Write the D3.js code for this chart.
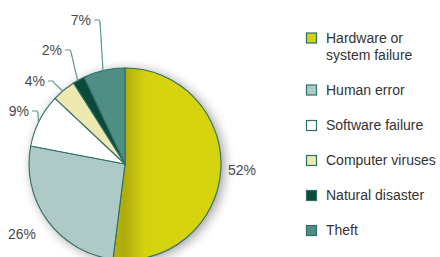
<!DOCTYPE html>
<html><head><meta charset="utf-8">
<script src="https://cdn.jsdelivr.net/npm/d3@7"></script>
<style>body{margin:0;background:#fff}svg{display:block}</style>
</head><body>
<script>
const categories = ["Hardware or system failure","Human error","Software failure","Computer viruses","Natural disaster","Theft"];
const legendLines = [["Hardware or","system failure"],["Human error"],["Software failure"],["Computer viruses"],["Natural disaster"],["Theft"]];
const values = [52,26,9,4,2,7];
const labels = ["52%","26%","9%","4%","2%","7%"];
const colors = ["#d5d30e","#aecac6","#ffffff","#ece8b0","#0b4a3a","#4f8e84"];

const W=440,H=257, cx=125, cy=164, R=96;
const svg=d3.select("body").append("svg").attr("width",W).attr("height",H);
const defs=svg.append("defs");
const f=defs.append("filter").attr("id","sh").attr("x","-30%").attr("y","-30%").attr("width","160%").attr("height","160%");
f.append("feGaussianBlur").attr("in","SourceAlpha").attr("stdDeviation",6);
f.append("feOffset").attr("dx",3).attr("dy",2).attr("result","b");
f.append("feComponentTransfer").append("feFuncA").attr("type","linear").attr("slope",0.4);
const g0=defs.append("linearGradient").attr("id","yg").attr("gradientUnits","userSpaceOnUse")
  .attr("x1",0).attr("y1",0).attr("x2",20).attr("y2",0);
g0.append("stop").attr("offset",0).attr("stop-color","#b0ad0c");
g0.append("stop").attr("offset",1).attr("stop-color",colors[0]);

const pie=d3.pie().sort(null).value(d=>d)(values);
const arc=d3.arc().innerRadius(0).outerRadius(R);
const g=svg.append("g").attr("transform",`translate(${cx},${cy})`);
g.append("circle").attr("r",R).attr("fill","#fff").attr("filter","url(#sh)");
g.selectAll("path.s").data(pie).join("path").attr("class","s")
  .attr("d",arc).attr("fill",(d,i)=>i===0?"url(#yg)":colors[i])
  .attr("stroke","#2f6f66").attr("stroke-width",1.1).attr("stroke-linejoin","round");

const big = {0:[117,6], 1:[-103,70]};
const small = {2:[29,111], 3:[45,81], 4:[62,50], 5:[91,20]};
const tx = svg.append("g").attr("font-family","Liberation Sans, Arial, sans-serif").attr("font-size",14).attr("fill","#4a4a4a");
pie.forEach((d,i)=>{
  if(big[i]){
    tx.append("text").attr("x",cx+big[i][0]).attr("y",cy+big[i][1]).attr("text-anchor","middle").attr("dy","0.35em").text(labels[i]);
  } else {
    const [lx,ly]=small[i];
    tx.append("text").attr("x",lx).attr("y",ly).attr("text-anchor","end").attr("dy","0.35em").text(labels[i]);
    const a=(d.startAngle+d.endAngle)/2;
    const ax=cx+R*Math.sin(a), ay=cy-R*Math.cos(a);
    svg.append("path").attr("d",`M${lx+3},${ly}H${lx+8}L${lx+9},${ly+2}L${ax-1},${ay+1}`)
      .attr("fill","none").attr("stroke","#5d9a91").attr("stroke-width",1.2);
  }
});

const ly0=[38,90,125.5,160.5,195.5,230.5];
const lg=svg.append("g").attr("font-family","Liberation Sans, Arial, sans-serif").attr("font-size",14).attr("fill","#333");
categories.forEach((c,i)=>{
  lg.append("rect").attr("x",306.5).attr("y",ly0[i]-5).attr("width",10).attr("height",10)
    .attr("fill",colors[i]).attr("stroke","#2f6f66").attr("stroke-width",1.2);
  legendLines[i].forEach((t,j)=>{
    lg.append("text").attr("x",326).attr("y",ly0[i]+j*17).attr("dy","0.35em").text(t);
  });
});
</script>
</body></html>
